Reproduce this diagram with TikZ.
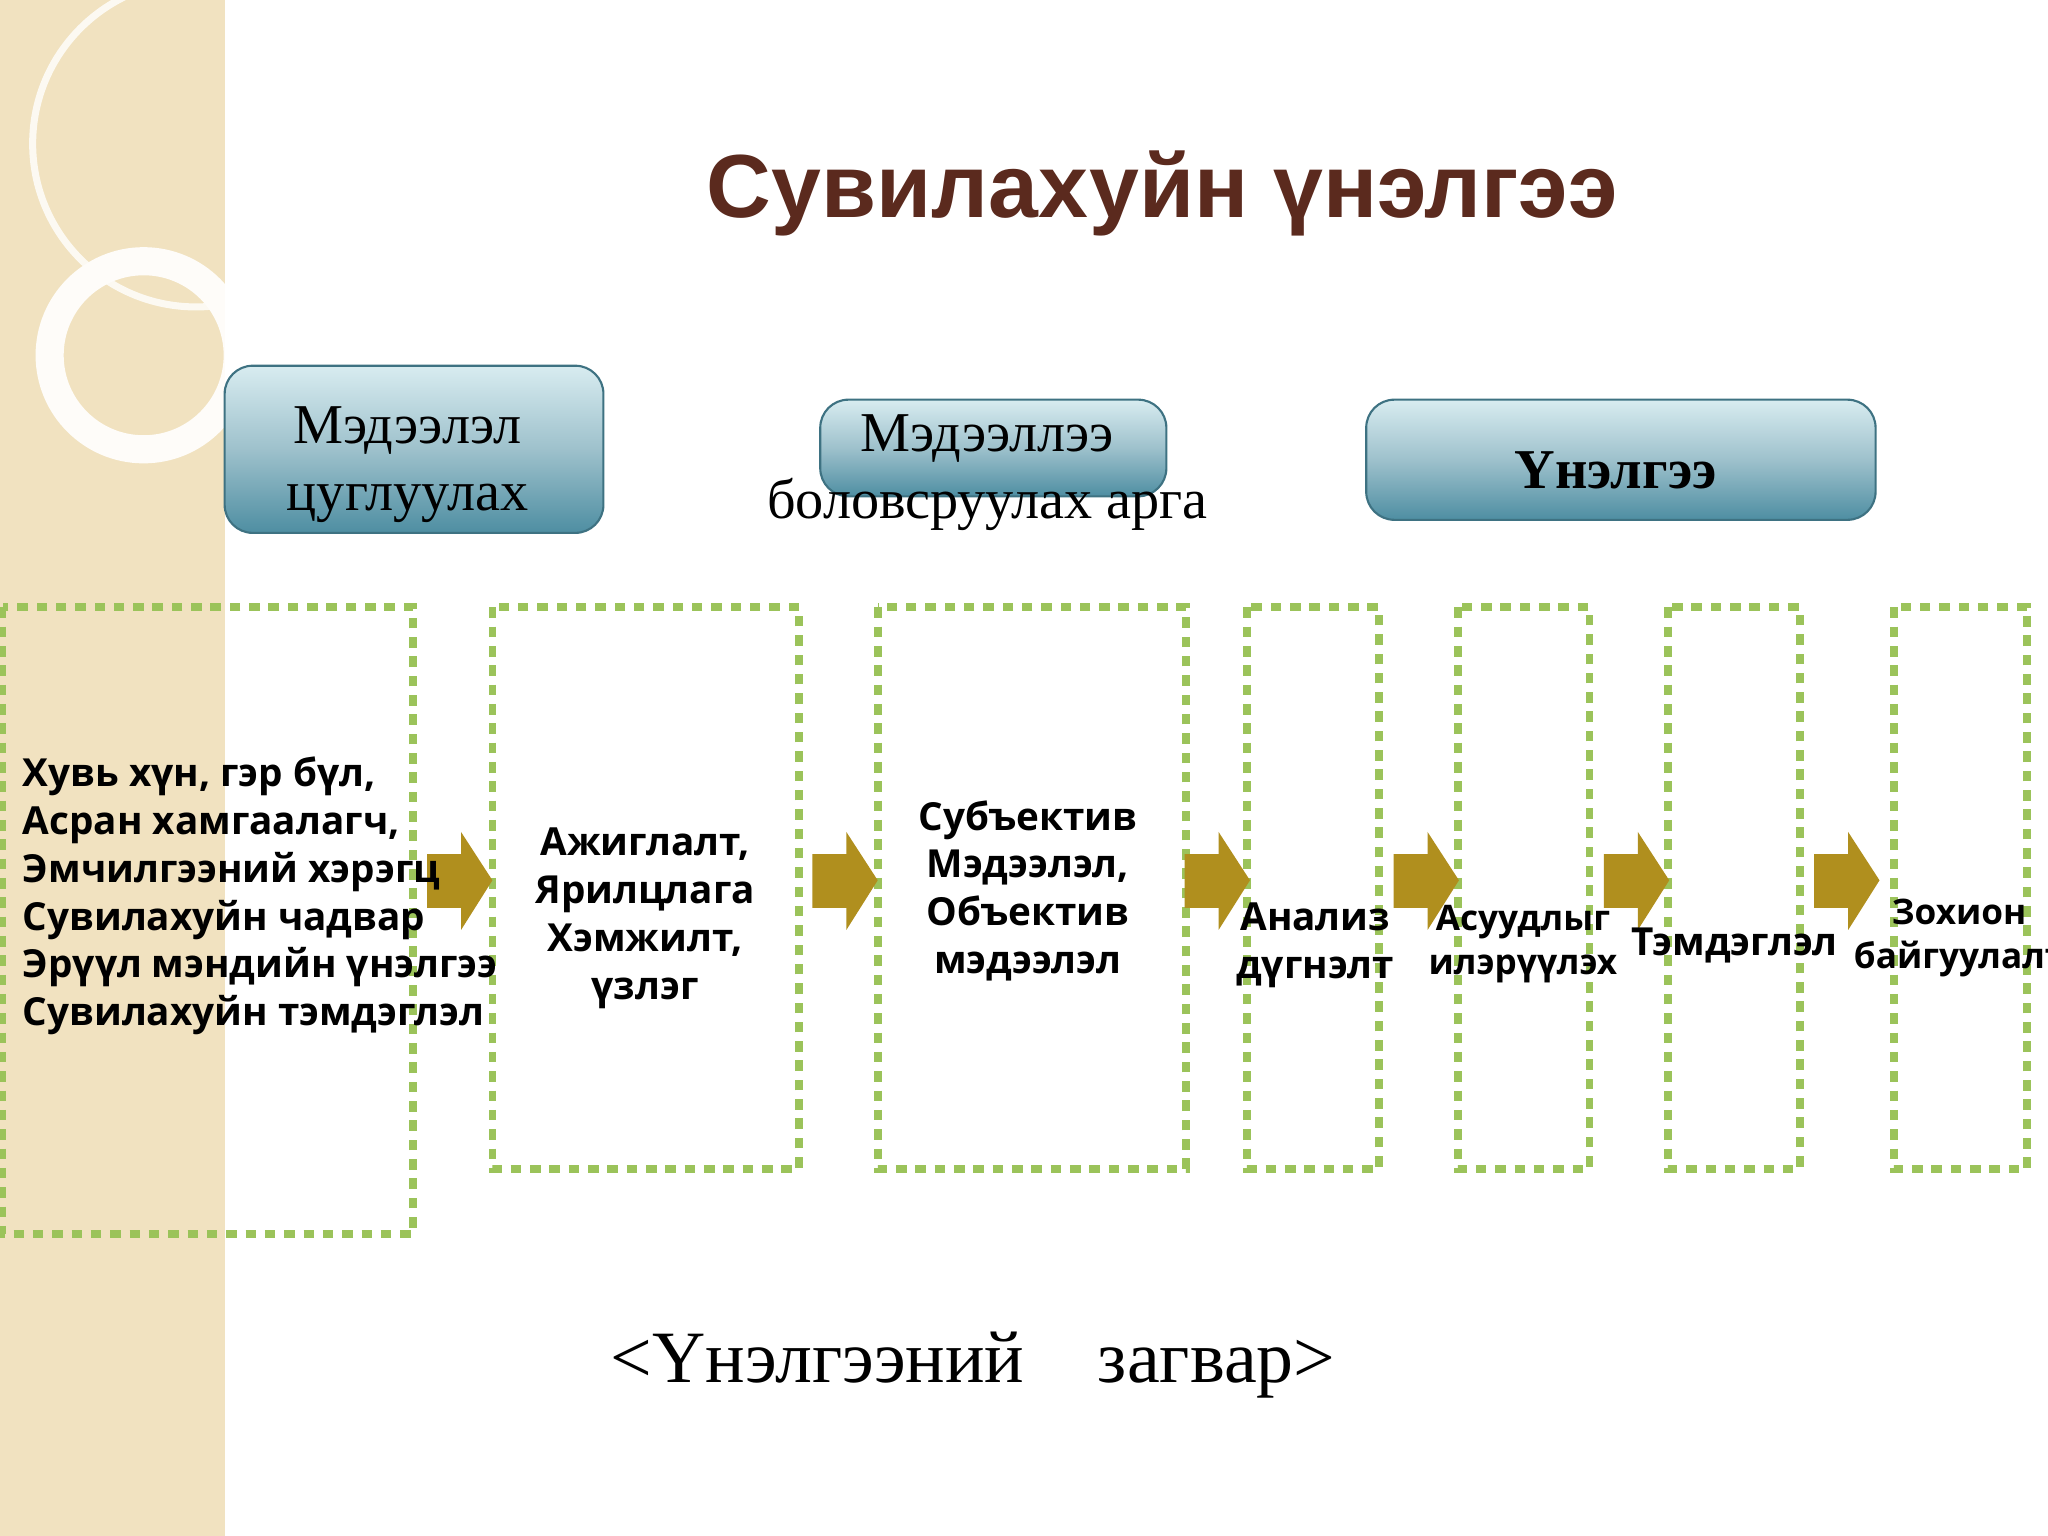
\documentclass[tikz,border=0pt]{standalone}
\usepackage{fontspec}
\setmainfont{Liberation Serif}
\newfontfamily\sansb{Open Sans}
\newfontfamily\titlef{Liberation Sans}
\definecolor{strip}{HTML}{F1E2C0}
\definecolor{titlec}{HTML}{5B2A1E}
\definecolor{dgreen}{HTML}{9BC35A}
\definecolor{gold}{HTML}{B08F1E}
\definecolor{tealA}{HTML}{D8ECF0}
\definecolor{tealB}{HTML}{4E8EA2}
\tikzset{
 hbox/.style={rounded corners=8pt,top color=tealA,bottom color=tealB,middle color=tealB!55!white,draw=tealB!80!black,line width=0.6pt},
 dbox/.style={draw=dgreen,line width=2.2pt,dash pattern=on 3pt off 2.5pt},
 htxt/.style={font=\fontsize{16}{19}\selectfont,align=center},
 btxt/.style={font=\sansb\bfseries\fontsize{11}{13.6}\selectfont,align=center}
}
\begin{document}
\begin{tikzpicture}[x=0.01306cm,y=-0.01306cm]
\useasboundingbox (0,0) rectangle (1568,1176);
\clip (0,0) rectangle (1568,1176);
\fill[strip] (0,0) rectangle (172,1176);
\draw[white,line width=2pt,opacity=0.8] (150,110) circle (125);
\draw[white!90!strip,line width=8pt] (110,272) circle (72);
\fill[white] (172,0) rectangle (1568,1176);
\node[font=\titlef\bfseries\fontsize{25.5}{30}\selectfont,text=titlec] (title) at (890,148) {Сувилахуйн үнэлгээ};
\draw[hbox] (172,280) rectangle (462,408);
\node[htxt] (h1) at (312,356) {Мэдээлэл\\цуглуулах};
\draw[hbox] (628,306) rectangle (893,380);
\node[htxt] (h2) at (756,362) {Мэдээллээ\\боловсруулах арга};
\draw[hbox] (1046,306) rectangle (1436,398);
\node[htxt,font=\bfseries\fontsize{16}{19}\selectfont] (h3) at (1237,360) {Үнэлгээ};
\draw[dbox] (2,465) rectangle (316,945);
\draw[dbox] (377,465) rectangle (612,895);
\draw[dbox] (672,465) rectangle (908,895);
\draw[dbox] (955,465) rectangle (1056,895);
\draw[dbox] (1116,465) rectangle (1217,895);
\draw[dbox] (1277,465) rectangle (1378,895);
\draw[dbox] (1450,465) rectangle (1552,895);
\foreach \x in {327,622,907,1067,1228,1389}
  \fill[gold] (\x,654) -- ++(26,0) -- ++(0,-17) -- ++(24,37) -- ++(-24,38) -- ++(0,-17) -- ++(-26,0) -- cycle;
\node[btxt,align=left,anchor=west] (t1) at (8,686) {Хувь хүн, гэр бүл,\\Асран хамгаалагч,\\Эмчилгээний хэрэгц\\Сувилахуйн чадвар\\Эрүүл мэндийн үнэлгээ\\Сувилахуйн тэмдэглэл};
\node[btxt] (t2) at (494,703) {Ажиглалт,\\Ярилцлага\\Хэмжилт,\\үзлэг};
\node[btxt] (t3) at (787,682) {Субъектив\\Мэдээлэл,\\Объектив\\мэдээлэл};
\node[btxt] (t4) at (1007,724) {Анализ\\дүгнэлт};
\node[btxt,font=\sansb\bfseries\fontsize{10}{12.5}\selectfont] (t5) at (1166,723) {Асуудлыг\\илэрүүлэх};
\node[btxt] (t6) at (1328,724) {Тэмдэглэл};
\node[btxt,font=\sansb\bfseries\fontsize{10}{12.5}\selectfont] (t7) at (1500,718) {Зохион\\байгуулалт};
\node[font=\fontsize{21}{24}\selectfont] (cap) at (745,1045) {<Үнэлгээний\quad загвар>};
\end{tikzpicture}
\end{document}
